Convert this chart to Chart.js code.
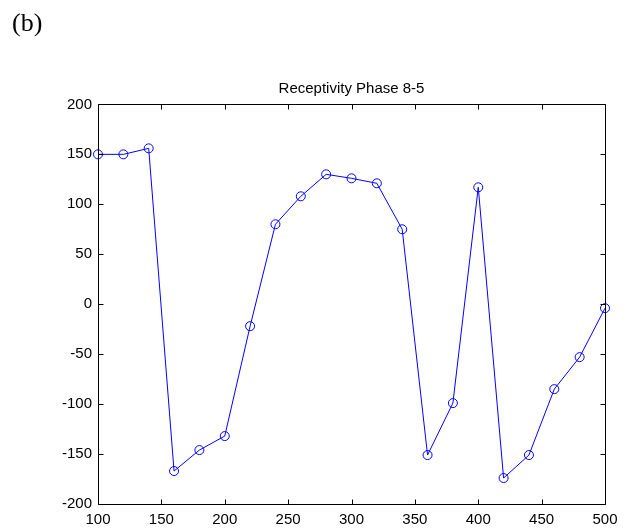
<!DOCTYPE html>
<html>
<head>
<meta charset="utf-8">
<script src="https://cdn.jsdelivr.net/npm/chart.js@4/dist/chart.umd.min.js"></script>
<style>
  html, body { margin: 0; padding: 0; background: #fff; }
  #wrap { position: relative; width: 631px; height: 529px; }
  #lbl { position: absolute; left: 12px; top: 10px; font-family: "Liberation Serif", "Times New Roman", serif; font-size: 26px; line-height: 26px; color: #000; }
  canvas { position: absolute; left: 0; top: 0; }
</style>
</head>
<body>
<div id="wrap">
  <canvas id="c" width="631" height="529"></canvas>
  <div id="lbl">(b)</div>
</div>
<script>
const titleText = "Receptivity Phase 8-5";
const xValues = [100, 120, 140, 160, 180, 200, 220, 240, 260, 280, 300, 320, 340, 360, 380, 400, 420, 440, 460, 480, 500];
const phaseValues = [150, 150, 156, -167, -146, -132, -22, 80, 108, 130, 126, 121, 75, -151, -99, 117, -174, -151, -85, -53, -4];
const xTicks = [100, 150, 200, 250, 300, 350, 400, 450, 500];
const yTicks = [-200, -150, -100, -50, 0, 50, 100, 150, 200];

const points = xValues.map((x, i) => ({ x: x, y: phaseValues[i] }));

const boxTicks = {
  id: 'boxTicks',
  afterDraw(chart) {
    const ctx = chart.ctx;
    const a = chart.chartArea;
    const xs = chart.scales.x, ys = chart.scales.y;
    const L = 5;
    ctx.save();
    ctx.strokeStyle = '#000';
    ctx.lineWidth = 1;
    const l = Math.round(a.left) + 0.5, r = Math.round(a.right) + 0.5;
    const t = Math.round(a.top) + 0.5, b = Math.round(a.bottom) + 0.5;
    ctx.beginPath();
    ctx.rect(l, t, r - l, b - t);
    xTicks.forEach(v => {
      const px = Math.round(xs.getPixelForValue(v)) + 0.5;
      ctx.moveTo(px, b); ctx.lineTo(px, b - L);
      ctx.moveTo(px, t); ctx.lineTo(px, t + L);
    });
    yTicks.forEach(v => {
      const py = Math.round(ys.getPixelForValue(v)) + 0.5;
      ctx.moveTo(l, py); ctx.lineTo(l + L, py);
      ctx.moveTo(r, py); ctx.lineTo(r - L, py);
    });
    ctx.stroke();
    ctx.restore();
  }
};

new Chart(document.getElementById('c'), {
  type: 'line',
  data: {
    datasets: [{
      data: points,
      borderColor: '#0000ff',
      borderWidth: 1,
      backgroundColor: 'rgba(0,0,0,0)',
      pointStyle: 'circle',
      pointRadius: 4.5,
      pointBorderColor: '#0000ff',
      pointBackgroundColor: 'rgba(0,0,0,0)',
      pointBorderWidth: 1,
      tension: 0,
      fill: false,
      clip: false
    }]
  },
  options: {
    responsive: false,
    animation: false,
    devicePixelRatio: 1,
    layout: { padding: { left: 0, right: 26, top: 0, bottom: 0 } },
    plugins: {
      legend: { display: false },
      tooltip: { enabled: false },
      title: {
        display: true,
        fullSize: false,
        text: titleText,
        color: '#000',
        font: { family: '"Liberation Sans", Arial, sans-serif', size: 15, weight: 'normal' },
        padding: { top: 80.2, bottom: 6.2 }
      }
    },
    scales: {
      x: {
        type: 'linear',
        min: 100, max: 500,
        afterBuildTicks(scale) { scale.ticks = xTicks.map(v => ({ value: v })); },
        afterFit(scale) { scale.height = 25; },
        grid: { display: false, drawTicks: false },
        border: { display: false },
        ticks: {
          color: '#000',
          padding: 7,
          maxRotation: 0,
          font: { family: '"Liberation Sans", Arial, sans-serif', size: 15 }
        }
      },
      y: {
        type: 'linear',
        min: -200, max: 200,
        afterBuildTicks(scale) { scale.ticks = yTicks.map(v => ({ value: v })); },
        afterFit(scale) { scale.width = 98; },
        grid: { display: false, drawTicks: false },
        border: { display: false },
        ticks: {
          color: '#000',
          padding: 6,
          font: { family: '"Liberation Sans", Arial, sans-serif', size: 15 }
        }
      }
    }
  },
  plugins: [boxTicks]
});
</script>
</body>
</html>
